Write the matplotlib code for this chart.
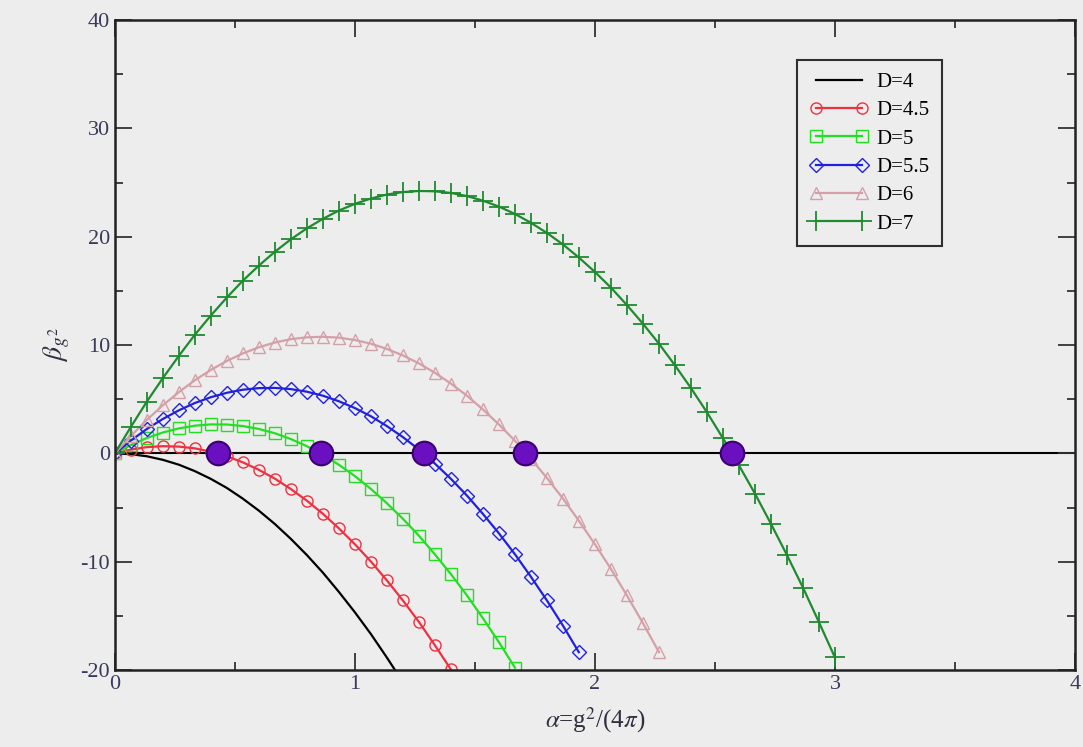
import numpy as np
import matplotlib
matplotlib.use('Agg')
import matplotlib.pyplot as plt
from matplotlib.ticker import MultipleLocator

plt.rcParams['font.family'] = ['Liberation Serif', 'DejaVu Serif']
plt.rcParams['mathtext.fontset'] = 'stix'
plt.rcParams['axes.unicode_minus'] = False

# alpha grid (markers every 1/15)
alpha = [0.000, 0.067, 0.133, 0.200, 0.267, 0.333, 0.400, 0.467, 0.533, 0.600,
         0.667, 0.733, 0.800, 0.867, 0.933, 1.000, 1.067, 1.133, 1.200, 1.267,
         1.333, 1.400, 1.467, 1.533, 1.600, 1.667, 1.733, 1.800, 1.867, 1.933,
         2.000, 2.067, 2.133, 2.200, 2.267, 2.333, 2.400, 2.467, 2.533, 2.600,
         2.667, 2.733, 2.800, 2.867, 2.933, 3.000]

beta_d4 = [0.0, -0.07, -0.26, -0.59, -1.04, -1.63, -2.35, -3.19, -4.17, -5.28,
           -6.52, -7.88, -9.38, -11.01, -12.77, -14.66, -16.68, -18.83, -21.11]
beta_d45 = [0.0, 0.35, 0.58, 0.67, 0.63, 0.47, 0.17, -0.26, -0.82, -1.51,
            -2.33, -3.28, -4.36, -5.57, -6.91, -8.38, -9.98, -11.71, -13.57, -15.56,
            -17.69, -19.94]
beta_d5 = [0.0, 0.77, 1.42, 1.93, 2.31, 2.56, 2.68, 2.67, 2.53, 2.26,
           1.86, 1.33, 0.67, -0.12, -1.04, -2.09, -3.28, -4.59, -6.03, -7.60,
           -9.31, -11.14, -13.11, -15.20, -17.42, -19.78]
beta_d55 = [0.0, 1.19, 2.25, 3.18, 3.98, 4.65, 5.19, 5.60, 5.88, 6.03,
            6.05, 5.94, 5.70, 5.33, 4.82, 4.19, 3.43, 2.53, 1.51, 0.36,
            -0.93, -2.34, -3.89, -5.57, -7.37, -9.31, -11.37, -13.57, -15.90, -18.35]
beta_d6 = [0.0, 1.61, 3.09, 4.44, 5.66, 6.75, 7.71, 8.54, 9.23, 9.80,
           10.24, 10.55, 10.72, 10.77, 10.69, 10.47, 10.13, 9.65, 9.05, 8.31,
           7.45, 6.45, 5.33, 4.07, 2.68, 1.17, -0.48, -2.26, -4.17, -6.21,
           -8.38, -10.67, -13.10, -15.66, -18.35]
beta_d7 = [0.0, 2.45, 4.77, 6.95, 9.01, 10.94, 12.73, 14.40, 15.94, 17.34,
           18.62, 19.76, 20.78, 21.66, 22.42, 23.04, 23.53, 23.90, 24.13, 24.23,
           24.20, 24.05, 23.76, 23.34, 22.79, 22.11, 21.30, 20.36, 19.29, 18.09,
           16.76, 15.30, 13.71, 11.98, 10.13, 8.15, 6.04, 3.79, 1.42, -1.09,
           -3.72, -6.48, -9.38, -12.40, -15.56, -18.84]

# fixed points (zeros)
fp_alpha = [0.43, 0.86, 1.29, 1.71, 2.57]
fp_beta = [0, 0, 0, 0, 0]

bg = '#ededed'
fig = plt.figure(figsize=(10.83, 7.47), dpi=100, facecolor=bg)
ax = fig.add_axes([0.106, 0.103, 0.8866, 0.870])
ax.set_facecolor(bg)

ax.axhline(0, color='black', lw=1.5, zorder=1)

series = [
    (beta_d4, 'D=4', 'black', None),
    (beta_d45, 'D=4.5', '#f03040', 'o'),
    (beta_d5, 'D=5', '#20e020', 's'),
    (beta_d55, 'D=5.5', '#2020e0', 'D'),
    (beta_d6, 'D=6', '#d4a0a8', '^'),
    (beta_d7, 'D=7', '#208a30', '+'),
]
for vals, lab, col, mk in series:
    x = alpha[:len(vals)]
    if mk is None:
        ax.plot(x, vals, '-', color=col, lw=1.6, label=lab, zorder=2)
    elif mk == '+':
        ax.plot(x, vals, '-', color=col, lw=1.6, marker='+', ms=14, mew=1.3,
                label=lab, zorder=2)
    else:
        ms = 7 if mk == 'D' else 8
        ax.plot(x, vals, '-', color=col, lw=1.6, marker=mk, ms=ms, mfc='none',
                mec=col, mew=1.0, label=lab, zorder=2)

ax.plot(fp_alpha, fp_beta, 'o', ms=17, color='#6a10c0', mec='#3a0070', mew=1.5,
        zorder=4, clip_on=False)

ax.set_xlim(0, 4)
ax.set_ylim(-20, 40)
ax.xaxis.set_major_locator(MultipleLocator(1))
ax.xaxis.set_minor_locator(MultipleLocator(0.5))
ax.yaxis.set_major_locator(MultipleLocator(10))
ax.yaxis.set_minor_locator(MultipleLocator(5))
ax.tick_params(which='both', direction='in', top=True, right=True,
               colors='#333333', labelcolor='#3a3a5a', labelsize=16)
ax.tick_params(which='major', length=12, width=1.3)
ax.tick_params(which='minor', length=6, width=1.3)
for s in ax.spines.values():
    s.set_linewidth(1.8)
    s.set_color('#222222')

ax.set_xlabel(r'$\alpha$=g$^2$/(4$\pi$)', fontsize=18, color='#303040', labelpad=8)
ax.set_ylabel(r'$\beta_{g^2}$', fontsize=20, color='#303040', labelpad=6)

leg = ax.legend(loc='upper left', bbox_to_anchor=(0.70, 0.955), numpoints=2,
                fontsize=15, frameon=True, fancybox=False, handlelength=2.8,
                borderpad=0.6, labelspacing=0.42, handletextpad=0.4)
leg.get_frame().set_edgecolor('black')
leg.get_frame().set_linewidth(1.5)
leg.get_frame().set_facecolor(bg)

plt.savefig('out.png', dpi=100, facecolor=bg)
